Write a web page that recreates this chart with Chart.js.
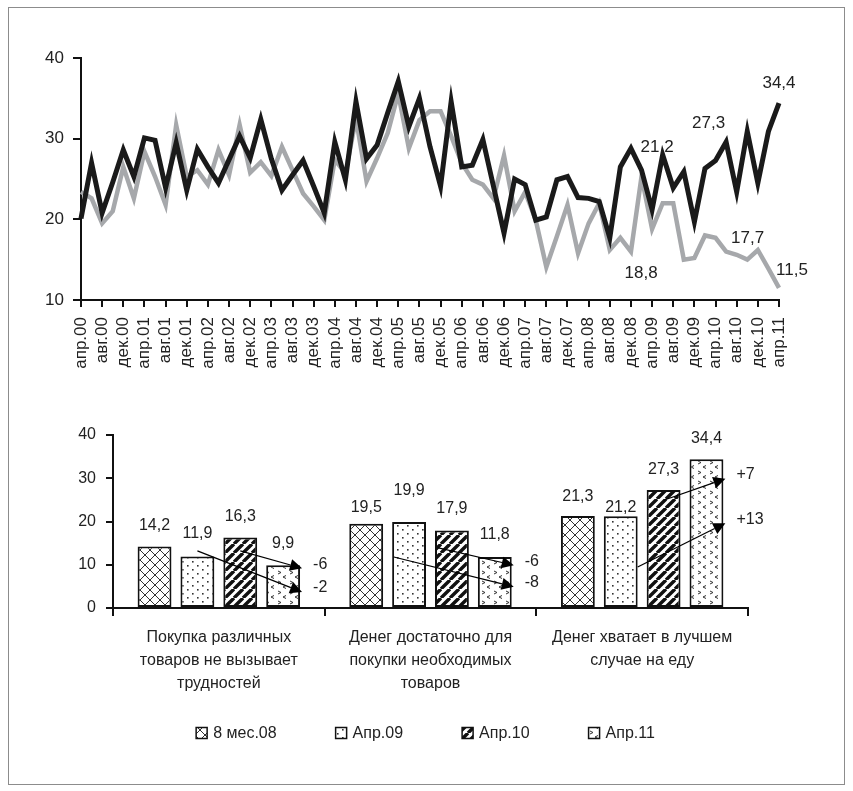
<!DOCTYPE html>
<html lang="ru">
<head>
<meta charset="utf-8">
<title>Оценка материального положения</title>
<script src="https://cdn.jsdelivr.net/npm/chart.js@4.4.1/dist/chart.umd.min.js"></script>
<style>
  html, body { margin: 0; padding: 0; background: #fff; }
  #frame { position: absolute; left: 8px; top: 7px; width: 835px; height: 776px; border: 1px solid #8c8c8c; }
  canvas { position: absolute; left: 0; }
  #lineChart { top: 0; }
  #barChart { top: 400px; }
</style>
</head>
<body>
<div id="frame"></div>
<canvas id="lineChart" width="853" height="400"></canvas>
<canvas id="barChart" width="853" height="380"></canvas>
<script>
// --- top chart: bimonthly values, апр.00 ... апр.11 (67 points, every 2nd gets a tick label)
const tickLabels = [
  'апр.00', 'авг.00', 'дек.00', 'апр.01', 'авг.01', 'дек.01', 'апр.02', 'авг.02', 'дек.02',
  'апр.03', 'авг.03', 'дек.03', 'апр.04', 'авг.04', 'дек.04', 'апр.05', 'авг.05', 'дек.05',
  'апр.06', 'авг.06', 'дек.06', 'апр.07', 'авг.07', 'дек.07', 'апр.08', 'авг.08', 'дек.08',
  'апр.09', 'авг.09', 'дек.09', 'апр.10', 'авг.10', 'дек.10', 'апр.11'
];

// black line: денег хватает в лучшем случае на еду
const foodOnly = [
  20.1, 27.0, 20.8, 24.6, 28.6, 25.3, 30.1, 29.8, 23.9, 29.5,
  23.6, 28.7, 26.5, 24.5, 27.4, 30.3, 27.6, 32.4, 27.5, 23.6,
  25.5, 27.3, 24.1, 20.8, 29.6, 24.9, 34.6, 27.5, 29.2, 33.2,
  37.1, 31.5, 35.0, 29.0, 24.1, 34.6, 26.5, 26.7, 29.9, 24.1,
  18.3, 25.0, 24.3, 19.9, 20.3, 24.9, 25.3, 22.7, 22.6, 22.2,
  17.7, 26.5, 28.8, 26.1, 21.2, 28.0, 23.9, 25.9, 19.7, 26.3,
  27.3, 29.6, 23.4, 30.9, 24.5, 30.9, 34.4
];

// grey line
const noDifficulty = [
  23.4, 22.6, 19.5, 21.0, 26.5, 22.6, 28.4, 25.3, 21.8, 31.7,
  25.3, 26.1, 24.3, 28.6, 25.5, 31.7, 25.8, 27.1, 25.4, 29.0,
  26.1, 23.2, 21.6, 19.9, 27.4, 25.7, 32.5, 24.7, 27.6, 30.7,
  35.6, 28.8, 32.3, 33.4, 33.4, 30.3, 27.0, 24.9, 24.3, 22.6,
  27.9, 21.0, 23.4, 19.9, 14.1, 17.9, 21.8, 15.8, 19.5, 22.0,
  16.2, 17.7, 16.0, 25.3, 18.8, 22.0, 22.0, 15.0, 15.2, 18.0,
  17.7, 16.0, 15.6, 15.0, 16.2, 13.9, 11.5
];

// which points carry a value label (series 0 = black, 1 = grey)
const lineNotes = [
  { series: 0, index: 54, dx: 5, dy: -62 },
  { series: 0, index: 60, dx: -7, dy: -37 },
  { series: 0, index: 66, dx: 0, dy: -20 },
  { series: 1, index: 54, dx: -11, dy: 44 },
  { series: 1, index: 60, dx: 32, dy: 0 },
  { series: 1, index: 66, dx: 13, dy: -18 }
];

// --- bottom chart
const barCategories = [
  ['Покупка различных', 'товаров не вызывает', 'трудностей'],
  ['Денег достаточно для', 'покупки необходимых', 'товаров'],
  ['Денег хватает в лучшем', 'случае на еду']
];
const barSeriesNames = ['8 мес.08', 'Апр.09', 'Апр.10', 'Апр.11'];
const bars2008 = [14.2, 19.5, 21.3];
const barsApr09 = [11.9, 19.9, 21.2];
const barsApr10 = [16.3, 17.9, 27.3];
const barsApr11 = [9.9, 11.8, 34.4];

// change arrows: from series `from` to the Апр.11 bar of the same category
const changeArrows = [
  { cat: 0, from: 1, at: 0, y0: 13.2, y1: 3.7, text: '-2' },
  { cat: 0, from: 2, at: 0, y0: 13.2, y1: 9.2, text: '-6' },
  { cat: 1, from: 1, at: -0.45, y0: 11.8, y1: 4.9, text: '-8' },
  { cat: 1, from: 2, at: -0.4, y0: 13.9, y1: 9.9, text: '-6' },
  { cat: 2, from: 1, at: 0.5, y0: 9.5, y1: 19.6, text: '+13' },
  { cat: 2, from: 2, at: 0, y0: 24.9, y1: 29.9, text: '+7' }
];

// label lift above bar top, px [category][series]
const barLabelLift = [
  [21, 23, 21, 22],
  [16, 31, 22, 22],
  [19, 9, 20, 21]
];

const FONT = '"Liberation Sans", Arial, sans-serif';
Chart.defaults.font.family = FONT;
Chart.defaults.color = '#222';

const fmt = v => v.toFixed(1).replace('.', ',');

function makePattern(kind) {
  const c = document.createElement('canvas');
  const g = c.getContext('2d');
  let w = 10, h = 10;
  if (kind === 'dots') { w = 10; h = 8; }
  if (kind === 'stripes') { w = 9; h = 9; }
  if (kind === 'chevrons') { w = 12; h = 10; }
  c.width = w; c.height = h;
  g.fillStyle = '#fff';
  g.fillRect(0, 0, w, h);
  g.strokeStyle = '#333';
  g.fillStyle = '#333';
  if (kind === 'cross') {
    g.lineWidth = 1;
    g.beginPath();
    g.moveTo(0, 0); g.lineTo(w, h);
    g.moveTo(w, 0); g.lineTo(0, h);
    g.stroke();
  } else if (kind === 'dots') {
    g.fillRect(2, 1, 1.6, 1.6);
    g.fillRect(7, 5, 1.6, 1.6);
  } else if (kind === 'stripes') {
    g.strokeStyle = '#111';
    g.lineWidth = 3.4;
    g.beginPath();
    [-w, 0, w].forEach(k => { g.moveTo(k, h); g.lineTo(k + w, 0); });
    g.stroke();
  } else if (kind === 'chevrons') {
    g.lineWidth = 1;
    g.beginPath();
    g.moveTo(2, 1); g.lineTo(5, 2.5); g.lineTo(2, 4);
    g.moveTo(10, 5.5); g.lineTo(7, 7); g.lineTo(10, 8.5);
    g.stroke();
  }
  return g.createPattern(c, 'repeat');
}

const lineNotesPlugin = {
  id: 'lineNotes',
  afterDatasetsDraw(chart) {
    const { ctx, scales: { x, y } } = chart;
    ctx.save();
    ctx.font = '17px ' + FONT;
    ctx.fillStyle = '#222';
    ctx.textAlign = 'center';
    ctx.textBaseline = 'middle';
    lineNotes.forEach(n => {
      const v = chart.data.datasets[n.series].data[n.index].y;
      ctx.fillText(fmt(v), x.getPixelForValue(n.index) + n.dx, y.getPixelForValue(v) + n.dy);
    });
    ctx.restore();
  }
};

const barNotesPlugin = {
  id: 'barNotes',
  afterDatasetsDraw(chart) {
    const { ctx, scales: { y } } = chart;
    ctx.save();
    ctx.font = '16px ' + FONT;
    ctx.fillStyle = '#222';
    ctx.textAlign = 'center';
    ctx.textBaseline = 'middle';
    chart.data.datasets.forEach((ds, s) => {
      chart.getDatasetMeta(s).data.forEach((bar, c) => {
        ctx.fillText(fmt(ds.data[c]), bar.x, bar.y - barLabelLift[c][s]);
      });
    });

    ctx.strokeStyle = '#000';
    ctx.lineWidth = 1.2;
    ctx.textAlign = 'left';
    changeArrows.forEach(a => {
      const from = chart.getDatasetMeta(a.from).data[a.cat];
      const last = chart.getDatasetMeta(3).data[a.cat];
      const x0 = from.x + a.at * from.width;
      const y0 = y.getPixelForValue(a.y0);
      const x1 = last.x + last.width / 2 + 2;
      const y1 = y.getPixelForValue(a.y1);
      const ang = Math.atan2(y1 - y0, x1 - x0);
      const cos = Math.cos(ang), sin = Math.sin(ang);
      const head = 12, half = 6;
      const bx = x1 - head * cos, by = y1 - head * sin;
      ctx.beginPath();
      ctx.moveTo(x0, y0);
      ctx.lineTo(bx, by);
      ctx.stroke();
      ctx.fillStyle = '#000';
      ctx.beginPath();
      ctx.moveTo(x1, y1);
      ctx.lineTo(bx - half * sin, by + half * cos);
      ctx.lineTo(bx + half * sin, by - half * cos);
      ctx.closePath();
      ctx.fill();
      ctx.fillStyle = '#222';
      ctx.fillText(a.text, x1 + 11, y1 - 4);
    });
    ctx.restore();
  }
};

// legend with the bar patterns, drawn under the category labels
const patternLegendPlugin = {
  id: 'patternLegend',
  afterDraw(chart) {
    const ctx = chart.ctx;
    const box = 11, gap = 6, spacing = 59;
    ctx.save();
    ctx.font = '16px ' + FONT;
    const widths = chart.data.datasets.map(ds => box + gap + ctx.measureText(ds.label).width);
    const total = widths.reduce((a, b) => a + b, 0) + spacing * (widths.length - 1);
    let x = (chart.width - total) / 2 - 1;
    const yc = chart.chartArea.bottom + 125;
    ctx.textAlign = 'left';
    ctx.textBaseline = 'middle';
    chart.data.datasets.forEach((ds, i) => {
      ctx.fillStyle = ds.backgroundColor;
      ctx.fillRect(x, yc - box / 2, box, box);
      ctx.lineWidth = 1.5;
      ctx.strokeStyle = '#111';
      ctx.strokeRect(x, yc - box / 2, box, box);
      ctx.fillStyle = '#222';
      ctx.fillText(ds.label, x + box + gap, yc + 1);
      x += widths[i] + spacing;
    });
    ctx.restore();
  }
};

// top line chart
new Chart(document.getElementById('lineChart'), {
  type: 'line',
  data: {
    datasets: [
      {
        label: 'Денег хватает в лучшем случае на еду',
        data: foodOnly.map((v, i) => ({ x: i, y: v })),
        borderColor: '#1a1a1a',
        borderWidth: 5,
        borderJoinStyle: 'miter',
        pointRadius: 0,
        tension: 0,
        clip: false
      },
      {
        label: 'Покупка различных товаров не вызывает трудностей',
        data: noDifficulty.map((v, i) => ({ x: i, y: v })),
        borderColor: '#a6a8ab',
        borderWidth: 4.5,
        borderJoinStyle: 'miter',
        pointRadius: 0,
        tension: 0,
        clip: false
      }
    ]
  },
  options: {
    responsive: false,
    animation: false,
    layout: { padding: { top: 58, left: 0, right: 74, bottom: 20 } },
    plugins: { legend: { display: false }, tooltip: { enabled: false } },
    scales: {
      x: {
        type: 'linear',
        min: 0,
        max: 66,
        afterFit: s => { s.height = 80; },
        border: { color: '#111', width: 2 },
        grid: { drawOnChartArea: false, tickLength: 7, color: '#111', lineWidth: 2 },
        ticks: {
          stepSize: 2,
          autoSkip: false,
          maxRotation: 90,
          minRotation: 90,
          padding: 10,
          color: '#222',
          font: { size: 17 },
          callback: v => tickLabels[v / 2]
        }
      },
      y: {
        min: 10,
        max: 40,
        afterFit: s => { s.width = 81; },
        border: { color: '#111', width: 2 },
        grid: { drawOnChartArea: false, tickLength: 8, color: '#111', lineWidth: 2 },
        ticks: { stepSize: 10, padding: 9, color: '#222', font: { size: 17 } }
      }
    }
  },
  plugins: [lineNotesPlugin]
});

// bottom bar chart
const patterns = [makePattern('cross'), makePattern('dots'), makePattern('stripes'), makePattern('chevrons')];
const barValues = [bars2008, barsApr09, barsApr10, barsApr11];

new Chart(document.getElementById('barChart'), {
  type: 'bar',
  data: {
    labels: barCategories,
    datasets: barSeriesNames.map((name, s) => ({
      label: name,
      data: barValues[s],
      backgroundColor: patterns[s],
      borderColor: '#111',
      borderWidth: 2,
      borderSkipped: false,
      categoryPercentage: 0.81,
      barPercentage: 0.79
    }))
  },
  options: {
    responsive: false,
    animation: false,
    layout: { padding: { top: 35, left: 0, right: 105, bottom: 72 } },
    plugins: {
      tooltip: { enabled: false },
      legend: { display: false }
    },
    scales: {
      x: {
        afterFit: s => { s.height = 100; },
        border: { color: '#111', width: 2 },
        grid: { drawOnChartArea: false, tickLength: 8, color: '#111', lineWidth: 2, offset: true },
        ticks: { padding: 10, color: '#222', font: { size: 16, lineHeight: 1.45 } }
      },
      y: {
        min: 0,
        max: 40,
        afterFit: s => { s.width = 113; },
        border: { color: '#111', width: 2 },
        grid: { drawOnChartArea: false, tickLength: 7, color: '#111', lineWidth: 2 },
        ticks: { stepSize: 10, padding: 10, color: '#222', font: { size: 16 } }
      }
    }
  },
  plugins: [barNotesPlugin, patternLegendPlugin]
});
</script>
</body>
</html>
